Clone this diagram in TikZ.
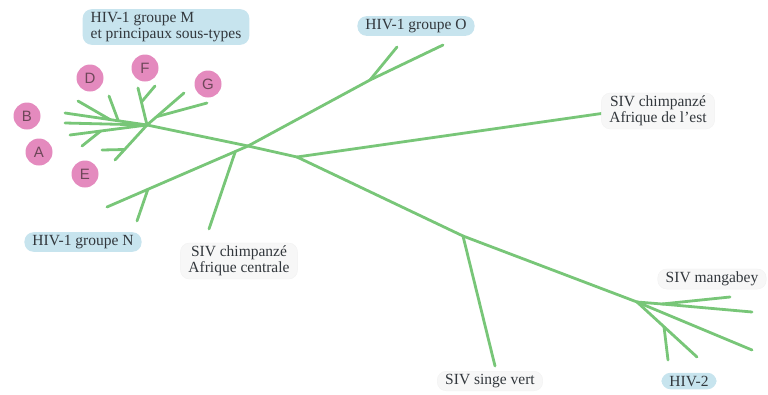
\documentclass[tikz,border=0pt]{standalone}
\usepackage{fontspec}
\setmainfont{Liberation Serif}
\newfontfamily\circfont{Liberation Sans}
\usetikzlibrary{positioning,shapes,calc}
\definecolor{branchgreen}{RGB}{120,198,120}
\definecolor{hivblue}{RGB}{199,228,238}
\definecolor{subpink}{RGB}{228,138,190}
\definecolor{sivgray}{RGB}{247,247,247}
\definecolor{labeltext}{RGB}{50,55,60}
\tikzset{
  branch/.style={draw=branchgreen, line width=2.8pt, line cap=round},
  hivlabel/.style={fill=hivblue, rounded corners=9pt, inner xsep=8pt, inner ysep=3pt, text=labeltext, font=\fontsize{15.5}{16}\selectfont},
  sivlabel/.style={fill=sivgray, draw=gray!10, rounded corners=9pt, inner xsep=8pt, inner ysep=3pt, text=labeltext, align=center, font=\fontsize{15.5}{16}\selectfont},
  subtype/.style={circle, fill=subpink, minimum size=27pt, inner sep=0pt, text=black!65!magenta, font=\circfont\fontsize{15}{15}\selectfont}
}
\begin{document}
\begin{tikzpicture}[x=1pt, y=-1pt]
\useasboundingbox (0,0) rectangle (768,394);
% tree points
\coordinate (root) at (248,146);
\coordinate (mhub) at (147,125);
\coordinate (rfork) at (297,157);
\coordinate (ofork) at (370,80);
\coordinate (oleafa) at (397,47);
\coordinate (oleafb) at (443,45);
\coordinate (nleaf) at (107,207);
\coordinate (nfork) at ($(root)!0.71!(nleaf)$);
\coordinate (nleafb) at (137,221);
\coordinate (cfork) at ($(root)!0.09!(nleaf)$);
\coordinate (cleaf) at (209,229);
\coordinate (estleaf) at (605,113);
\coordinate (svfork) at (463,236);
\coordinate (svleaf) at (495,366);
\coordinate (mgfork) at (637,302);
\coordinate (mgsplit) at (662,304);
\coordinate (mgleafa) at (730,297);
\coordinate (mgleafb) at (752,312);
\coordinate (mgleafc) at (752,350);
\coordinate (hivleaf) at (697,357);
\coordinate (hivfork) at ($(mgfork)!0.45!(hivleaf)$);
\coordinate (hivleafb) at (668,360);
% subtype branches
\coordinate (dleaf) at (65,113);
\coordinate (dleafa) at (78,101);
\coordinate (dleafb) at (109,96);
\coordinate (bleaf) at (65,123);
\coordinate (aleaf) at (70,135);
\coordinate (aleafb) at (82,146);
\coordinate (eleaf) at (115,160);
\coordinate (eleafb) at (102,150);
\coordinate (fleaf) at (138,88);
\coordinate (fleafb) at (155,86);
\coordinate (gleaf) at (184,93);
\coordinate (gleafb) at (207,103);

\draw[branch] (mhub) -- (root);
\draw[branch] (root) -- (rfork);
\draw[branch] (root) -- (ofork);
\draw[branch] (ofork) -- (oleafa);
\draw[branch] (ofork) -- (oleafb);
\draw[branch] (root) -- (nleaf);
\draw[branch] (nfork) -- (nleafb);
\draw[branch] (cfork) -- (cleaf);
\draw[branch] (rfork) -- (estleaf);
\draw[branch] (rfork) -- (svfork);
\draw[branch] (svfork) -- (svleaf);
\draw[branch] (svfork) -- (mgfork);
\draw[branch] (mgfork) -- (mgsplit);
\draw[branch] (mgsplit) -- (mgleafa);
\draw[branch] (mgsplit) -- (mgleafb);
\draw[branch] (mgfork) -- (mgleafc);
\draw[branch] (mgfork) -- (hivleaf);
\draw[branch] (hivfork) -- (hivleafb);

\draw[branch] (mhub) -- (dleaf);
\draw[branch] ($(mhub)!0.45!(dleaf)$) -- (dleafa);
\draw[branch] ($(mhub)!0.35!(dleaf)$) -- (dleafb);
\draw[branch] (mhub) -- (bleaf);
\draw[branch] (mhub) -- (aleaf);
\draw[branch] ($(mhub)!0.6!(aleaf)$) -- (aleafb);
\draw[branch] (mhub) -- (eleaf);
\draw[branch] ($(mhub)!0.7!(eleaf)$) -- (eleafb);
\draw[branch] (mhub) -- (fleaf);
\draw[branch] ($(mhub)!0.62!(fleaf)$) -- (fleafb);
\draw[branch] (mhub) -- (gleaf);
\draw[branch] ($(mhub)!0.26!(gleaf)$) -- (gleafb);

% labels
\node[hivlabel, align=left] (grpm) at (166,27) {HIV-1 groupe M\\et principaux sous-types};
\node[hivlabel] (grpo) at (416,26) {HIV-1 groupe O};
\node[hivlabel] (grpn) at (83,242) {HIV-1 groupe N};
\node[hivlabel] (hivtwo) at (689,381) {HIV-2};
\node[sivlabel] (chimpest) at (658,111) {SIV chimpanzé\\Afrique de l'est};
\node[sivlabel] (chimpcent) at (239,261) {SIV chimpanzé\\Afrique centrale};
\node[sivlabel] (mangabey) at (712,279) {SIV mangabey};
\node[sivlabel] (singevert) at (490,381) {SIV singe vert};

% subtypes
\node[subtype] (subb) at (27,116) {B};
\node[subtype] (subd) at (90,78) {D};
\node[subtype] (subf) at (145,68) {F};
\node[subtype] (subg) at (208,84) {G};
\node[subtype] (suba) at (39,152) {A};
\node[subtype] (sube) at (85,174) {E};
\end{tikzpicture}
\end{document}
